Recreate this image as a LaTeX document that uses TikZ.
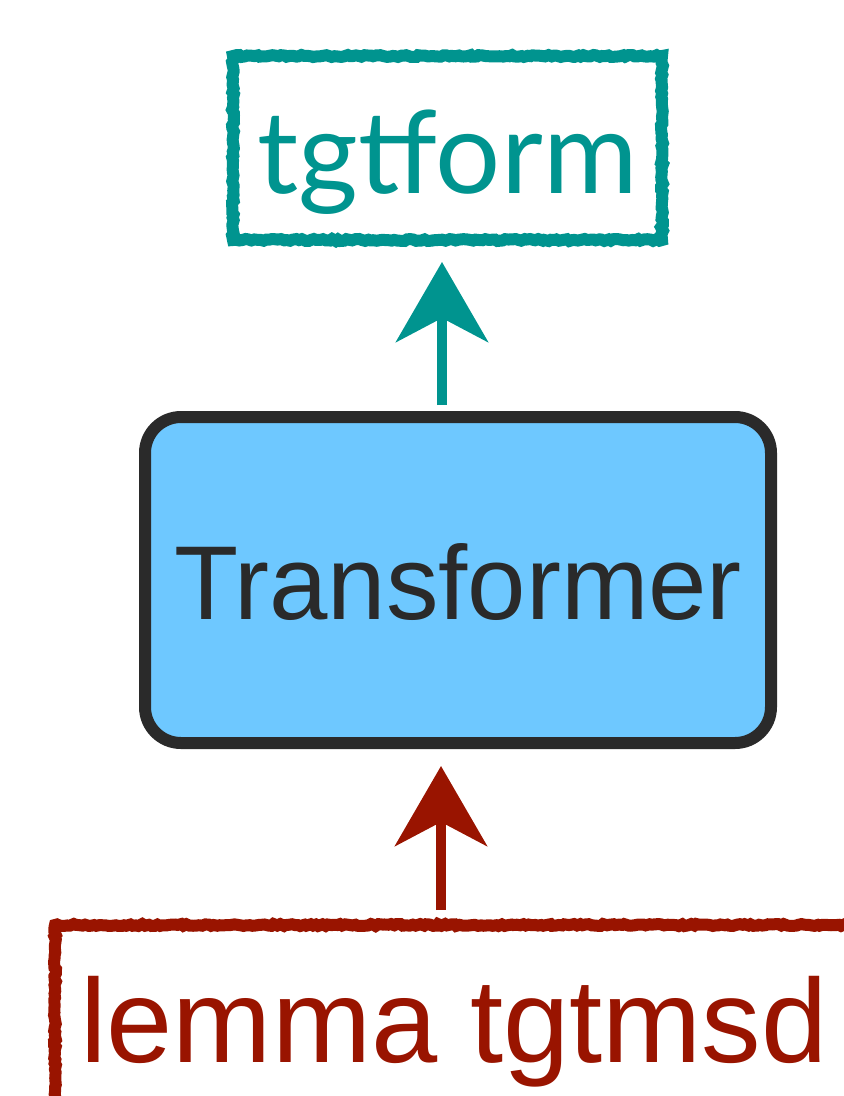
\documentclass[tikz,border=0pt]{standalone}
\usepackage{fontspec}
\setmainfont{Liberation Sans}
\newfontfamily\avfont{Lato}
\usetikzlibrary{arrows.meta,decorations.pathmorphing}
\definecolor{teal}{HTML}{00948F}
\definecolor{skyfill}{HTML}{6EC8FF}
\definecolor{inkdark}{HTML}{2A2A2A}
\definecolor{brick}{HTML}{991400}
\tikzset{
  rough/.style={decorate,decoration={random steps,segment length=3pt,amplitude=1pt}},
  outbox/.style={draw=teal,line width=12pt,rectangle,inner sep=0pt,text=teal,rough,
    minimum width=429pt,minimum height=184pt,font=\avfont\fontsize{115}{115}\selectfont,
    text height=90pt,text depth=0pt},
  modelbox/.style={draw=inkdark,fill=skyfill,line width=12pt,rectangle,rounded corners=36pt,inner sep=0pt,text=inkdark,
    minimum width=626pt,minimum height=326pt,font=\fontsize{105}{105}\selectfont,
    text height=78pt,text depth=0pt},
  inbox/.style={draw=brick,line width=12pt,rectangle,inner sep=0pt,text=brick,rough,
    minimum width=798pt,minimum height=274pt,font=\fontsize{119}{119}\selectfont,
    text height=60pt,text depth=60pt},
  flowarrow/.style={line width=10pt,-{Stealth[length=80pt,width=92pt,inset=24pt]}},
}
\begin{document}
\begin{tikzpicture}[x=1pt,y=-1pt]
\useasboundingbox (0,0) rectangle (844,1096);
\clip (0,0) rectangle (844,1096);
\pgfmathsetseed{7}
\node[outbox] (tgt) at (447.5,148) {tgtform};
\node[modelbox] (tr) at (458,580) {Transformer};
\node[inbox] (lem) at (454,1062) {lemma tgtmsd};
\draw[flowarrow,teal] ([xshift=-16pt,yshift=6pt]tr.north) -- ([xshift=-5.5pt,yshift=-16pt]tgt.south);
\draw[flowarrow,brick] ([xshift=-13pt,yshift=9pt]lem.north) -- ([xshift=-17pt,yshift=-17pt]tr.south);
\end{tikzpicture}
\end{document}
